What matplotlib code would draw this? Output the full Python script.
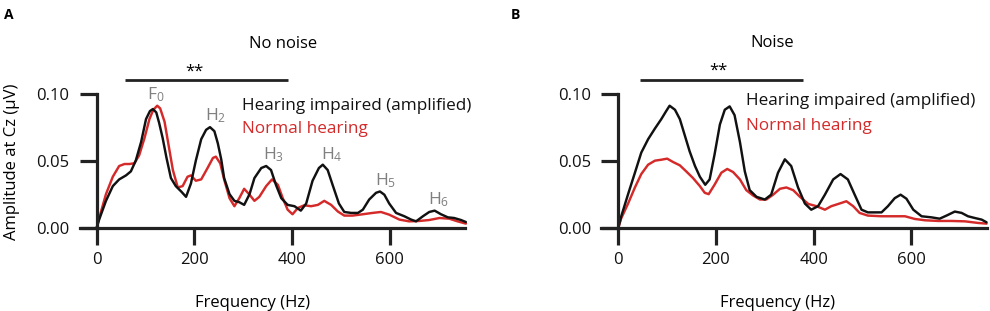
import matplotlib
matplotlib.use("Agg")
import matplotlib.pyplot as plt

plt.rcParams['font.family'] = ['Open Sans', 'DejaVu Sans']
plt.rcParams['mathtext.default'] = 'regular'

# ---------------- data ----------------
# Panel A: No noise -- hearing impaired (amplified)
a_hi_f = [0, 5, 19, 33, 46, 60, 70, 80, 91, 101, 109, 115, 122, 128, 135, 143, 152, 162, 173, 183,
          193, 203, 214, 224, 232, 241, 248, 255, 261, 272, 282, 292, 302, 313, 323, 337, 347, 357,
          367, 378, 391, 405, 418, 429, 442, 455, 463, 473, 483, 496, 507, 521, 535, 545, 558, 572,
          580, 589, 599, 613, 630, 644, 654, 668, 681, 692, 705, 719, 732, 746, 756]
a_hi_v = [0.0, 0.006, 0.020, 0.031, 0.036, 0.039, 0.042, 0.050, 0.064, 0.081, 0.087, 0.0885, 0.086,
          0.078, 0.067, 0.052, 0.037, 0.031, 0.027, 0.023, 0.033, 0.050, 0.066, 0.073, 0.075, 0.072,
          0.063, 0.051, 0.037, 0.025, 0.020, 0.019, 0.017, 0.025, 0.037, 0.0445, 0.046, 0.043, 0.032,
          0.022, 0.017, 0.016, 0.0127, 0.018, 0.035, 0.0445, 0.047, 0.043, 0.032, 0.018, 0.0117,
          0.011, 0.011, 0.0134, 0.021, 0.026, 0.027, 0.0246, 0.018, 0.011, 0.0085, 0.006, 0.0047,
          0.0085, 0.0117, 0.0127, 0.010, 0.0077, 0.0072, 0.0057, 0.0042]
# Panel A: No noise -- normal hearing
a_nh_f = [0, 5, 19, 33, 46, 57, 67, 77, 87, 98, 108, 116, 124, 130, 139, 147, 156, 166, 176, 186,
          193, 203, 214, 227, 238, 244, 253, 261, 272, 282, 292, 302, 313, 323, 333, 347, 359, 371,
          381, 391, 401, 412, 425, 439, 453, 466, 480, 494, 507, 524, 545, 565, 582, 599, 620, 640,
          661, 681, 702, 722, 739, 756]
a_nh_v = [0.0, 0.007, 0.025, 0.038, 0.046, 0.0475, 0.0475, 0.048, 0.054, 0.067, 0.081, 0.088, 0.091,
          0.089, 0.079, 0.062, 0.043, 0.030, 0.031, 0.038, 0.039, 0.035, 0.036, 0.0445, 0.052, 0.053,
          0.048, 0.036, 0.022, 0.016, 0.022, 0.029, 0.0246, 0.020, 0.023, 0.031, 0.036, 0.032, 0.022,
          0.0134, 0.010, 0.0147, 0.0167, 0.016, 0.017, 0.020, 0.017, 0.012, 0.009, 0.009, 0.010,
          0.011, 0.0117, 0.0097, 0.006, 0.0047, 0.005, 0.0057, 0.0072, 0.0067, 0.0047, 0.003]

# Panel B: Noise -- hearing impaired (amplified)
b_hi_f = [0, 6, 20, 34, 47, 61, 75, 88, 98, 105, 116, 126, 136, 146, 157, 167, 178, 187, 197, 208,
          218, 228, 238, 249, 259, 269, 283, 300, 313, 327, 341, 354, 368, 382, 395, 409, 423, 440,
          455, 470, 484, 498, 511, 539, 552, 566, 578, 590, 604, 621, 641, 658, 672, 689, 703, 716,
          730, 744, 754]
b_hi_v = [0.0, 0.0085, 0.025, 0.041, 0.056, 0.066, 0.074, 0.081, 0.087, 0.091, 0.088, 0.081, 0.069,
          0.057, 0.046, 0.038, 0.032, 0.036, 0.0545, 0.077, 0.088, 0.0905, 0.084, 0.064, 0.042, 0.028,
          0.023, 0.021, 0.0246, 0.041, 0.051, 0.046, 0.030, 0.018, 0.0134, 0.016, 0.0246, 0.036,
          0.040, 0.036, 0.0246, 0.0134, 0.0114, 0.0114, 0.016, 0.022, 0.0246, 0.0216, 0.0134, 0.0085,
          0.0077, 0.0067, 0.009, 0.012, 0.011, 0.0085, 0.0072, 0.006, 0.004]
# Panel B: Noise -- normal hearing
b_nh_f = [0, 6, 20, 34, 47, 61, 75, 88, 100, 112, 126, 139, 153, 167, 177, 185, 197, 211, 223, 235,
          249, 262, 276, 290, 303, 317, 331, 344, 358, 372, 389, 406, 423, 436, 453, 467, 481, 494,
          511, 539, 566, 587, 607, 628, 655, 682, 710, 737, 754]
b_nh_v = [0.0, 0.007, 0.018, 0.030, 0.040, 0.047, 0.050, 0.0507, 0.0515, 0.049, 0.0465, 0.042, 0.037,
          0.031, 0.026, 0.025, 0.032, 0.041, 0.0438, 0.0415, 0.036, 0.028, 0.024, 0.021, 0.021, 0.0246,
          0.029, 0.030, 0.028, 0.023, 0.0177, 0.016, 0.0134, 0.016, 0.018, 0.0197, 0.016, 0.011, 0.009,
          0.0085, 0.0085, 0.0085, 0.0065, 0.0055, 0.005, 0.005, 0.0047, 0.0035, 0.003]

x_ticks = [0, 200, 400, 600]
y_ticks = [0.00, 0.05, 0.10]
y_tick_labels = ["0.00", "0.05", "0.10"]
harmonic_labels = ["F$_0$", "H$_2$", "H$_3$", "H$_4$", "H$_5$", "H$_6$"]
harmonic_f = [104, 222, 340, 459, 570, 678]
harmonic_v = [0.0958, 0.0799, 0.0510, 0.0510, 0.0313, 0.0177]

series_names = ["Hearing impaired (amplified)", "Normal hearing"]

BLACK = "#111111"
RED = "#d42a2a"
GRAY = "#7f7f7f"
AXC = "#222222"

fig = plt.figure(figsize=(9.9, 3.11), dpi=100)

def setup(ax):
    ax.set_xlim(-35, 755)
    ax.set_ylim(0, 0.12)
    for s in ["top", "right"]:
        ax.spines[s].set_visible(False)
    ax.spines["left"].set_position(("data", 0))
    ax.spines["left"].set_bounds(0, 0.10)
    ax.spines["bottom"].set_position(("data", 0))
    for s in ["left", "bottom"]:
        ax.spines[s].set_linewidth(2.3)
        ax.spines[s].set_color(AXC)
    ax.set_xticks(x_ticks)
    ax.set_yticks(y_ticks)
    ax.set_yticklabels(y_tick_labels)
    ax.tick_params(axis="both", direction="out", length=12.5, width=2.3, color=AXC,
                   labelsize=12, labelcolor="#111111")
    ax.tick_params(axis="y", pad=7)
    ax.tick_params(axis="x", pad=5)
    ax.patch.set_alpha(0)

axA = fig.add_axes([0.0804, 0.268, 0.3897, 0.517])
axB = fig.add_axes([0.6073, 0.268, 0.3897, 0.517])
setup(axA)
setup(axB)

lkw = dict(lw=1.75, clip_on=False, solid_joinstyle="round", solid_capstyle="round")
axA.plot(a_nh_f, a_nh_v, color=RED, label=series_names[1], **lkw)
axA.plot(a_hi_f, a_hi_v, color=BLACK, label=series_names[0], **lkw)
axB.plot(b_nh_f, b_nh_v, color=RED, label=series_names[1], **lkw)
axB.plot(b_hi_f, b_hi_v, color=BLACK, label=series_names[0], **lkw)

# legends as coloured text
axA.text(297, 0.0908, series_names[0], color=BLACK, fontsize=12.3, va="center", ha="left")
axA.text(297, 0.0737, series_names[1], color=RED, fontsize=12.3, va="center", ha="left")
axB.text(261, 0.0946, series_names[0], color=BLACK, fontsize=12.3, va="center", ha="left")
axB.text(261, 0.0759, series_names[1], color=RED, fontsize=12.3, va="center", ha="left")

# harmonic labels
for lab, f, v in zip(harmonic_labels, harmonic_f, harmonic_v):
    axA.text(f, v, lab, color=GRAY, fontsize=12.5, ha="left", va="baseline")

# titles
axA.text(381, 0.137, "No noise", fontsize=12, ha="center", va="center", clip_on=False)
axB.text(315, 0.138, "Noise", fontsize=12, ha="center", va="center", clip_on=False)

# significance bars
axA.plot([58, 392], [0.110, 0.110], color=AXC, lw=2.0, clip_on=False, solid_capstyle="butt")
axA.text(201, 0.1165, "**", fontsize=12, ha="center", va="center")
axB.plot([44, 379], [0.110, 0.110], color=AXC, lw=2.0, clip_on=False, solid_capstyle="butt")
axB.text(204, 0.1170, "**", fontsize=12, ha="center", va="center")

# axis labels
axA.set_xlabel("Frequency (Hz)", fontsize=12)
axA.xaxis.set_label_coords((253 - 79.6) / 385.8, -0.42)
axB.set_xlabel("Frequency (Hz)", fontsize=12)
axB.xaxis.set_label_coords((777 - 601.2) / 385.8, -0.42)
axA.set_ylabel("Amplitude at Cz (μV)", fontsize=12)
axA.yaxis.label.set_va("center")
axA.yaxis.set_label_coords((12 - 79.6) / 385.8, 0.41)

fig.text(0.004, 0.975, "A", fontsize=10, fontweight="bold", ha="left", va="top")
fig.text(0.516, 0.975, "B", fontsize=10, fontweight="bold", ha="left", va="top")

fig.savefig("out.png", dpi=100)
